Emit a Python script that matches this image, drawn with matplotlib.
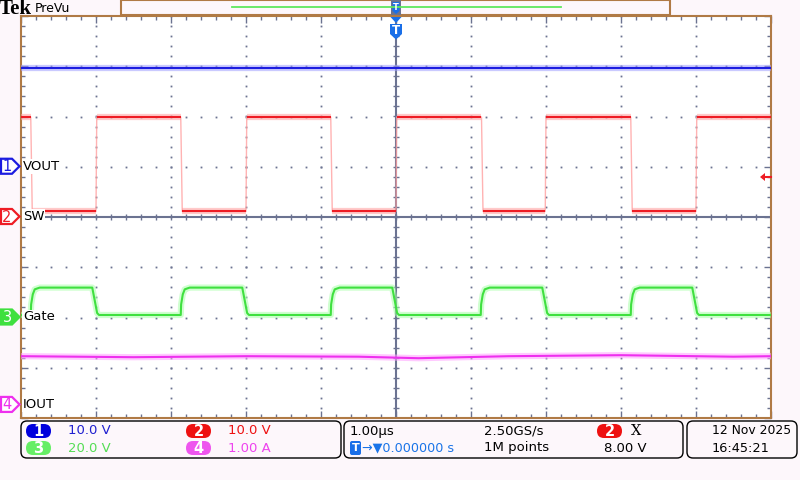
import numpy as np
import matplotlib.pyplot as plt
from matplotlib.patches import FancyBboxPatch, Polygon, Rectangle
from matplotlib.collections import LineCollection

# channel setup
labels = ["VOUT", "SW", "Gate", "IOUT"]
scales = [10.0, 10.0, 20.0, 1.0]      # units per division
offsets = [1.0, 0.0, -2.0, -3.74]     # ground markers, in divisions
readouts = ["10.0 V", "10.0 V", "20.0 V", "1.00 A"]

# waveforms, time in us (1 us/div)
vout_t = [-5.0, 5.0]
vout_v = [19.6, 19.6]

sw_rise = [-4.0, -2.0, 0.0, 1.99, 4.0]
sw_fall = [-4.87, -2.87, -0.87, 1.14, 3.13]
sw_high = 19.9
sw_low = 1.1

gate_rise = [-4.87, -2.87, -0.87, 1.13, 3.13]
gate_fall = [-4.05, -2.05, -0.05, 1.95, 3.95]
gate_high = 11.9
gate_low = 1.0
gate_rise_dt = [0.0, 0.005, 0.027, 0.053, 0.09, 0.12]
gate_rise_v = [1.0, 5.2, 9.2, 11.2, 11.6, 11.9]
gate_fall_dt = [0.0, 0.065, 0.09]
gate_fall_v = [11.9, 1.8, 1.0]

iout_t = [-5.0, -3.5, -2.0, -0.5, 0.3, 1.5, 3.0, 4.5, 5.0]
iout_v = [0.97, 0.95, 0.97, 0.96, 0.93, 0.97, 0.99, 0.96, 0.97]

col = ["#1c1ce0", "#ee1c24", "#3fe03f", "#ee30ee"]
fz = ["#a0a0ff", "#ffa0a0", "#aaffaa", "#ffa0ff"]
BG = "#fdf7fb"
GRID = "#6b7391"
BORDER = "#b07a45"


def sw_wave():
    t, v = [-5.0], [sw_high]
    ev = sorted([(x, "f") for x in sw_fall] + [(x, "r") for x in sw_rise])
    for x, k in ev:
        if k == "f":
            t += [x, x + 0.02]
            v += [sw_high, sw_low]
        else:
            t += [x, x + 0.01]
            v += [sw_low, sw_high]
    t.append(5.0)
    v.append(v[-1])
    return np.array(t), np.array(v)


def gate_wave():
    t, v = [-5.0], [gate_low]
    ev = sorted([(x, "r") for x in gate_rise] + [(x, "f") for x in gate_fall])
    for x, k in ev:
        dts, vs = (gate_rise_dt, gate_rise_v) if k == "r" else (gate_fall_dt, gate_fall_v)
        t += [x + d for d in dts]
        v += vs
    t.append(5.0)
    v.append(v[-1])
    return np.array(t), np.array(v)


fig = plt.figure(figsize=(8, 4.8), dpi=100, facecolor=BG)
ax = fig.add_axes([21 / 800, 1 - 418 / 480, 750 / 800, 402 / 480])
ax.set_facecolor("white")
ax.set_xlim(-5, 5)
ax.set_ylim(-4, 4)
for s in ax.spines.values():
    s.set_color(BORDER)
    s.set_linewidth(1.5)
ax.set_xticks(np.arange(-5, 5.01, 1))
ax.set_xticks(np.arange(-5, 5.01, 0.2), minor=True)
ax.set_yticks(np.arange(-4, 4.01, 1))
ax.set_yticks(np.arange(-4, 4.01, 0.2), minor=True)
ax.tick_params(which="both", direction="in", colors=GRID, width=1, length=3,
               top=True, right=True, labelbottom=False, labelleft=False)
ax.tick_params(which="major", length=5)

# graticule dots
for gx in [-4, -3, -2, -1, 1, 2, 3, 4]:
    yy = np.arange(-4, 4.01, 0.2)
    ax.plot(np.full_like(yy, gx), yy, ls="none", marker="s", ms=1.3, color=GRID, mew=0)
for gy in [-3, -2, -1, 1, 2, 3]:
    xx = np.arange(-5, 5.01, 0.2)
    ax.plot(xx, np.full_like(xx, gy), ls="none", marker="s", ms=1.3, color=GRID, mew=0)
ax.axhline(0, color=GRID, lw=1.5, zorder=1)
ax.axvline(0, color=GRID, lw=1.5, zorder=1)
xx = np.arange(-5, 5.01, 0.2)
ax.plot(xx, np.zeros_like(xx), ls="none", marker="|", ms=4.5, mew=1, color=GRID)
yy = np.arange(-4, 4.01, 0.2)
ax.plot(np.zeros_like(yy), yy, ls="none", marker="_", ms=4.5, mew=1, color=GRID)


def trace(t, v, i, edges_faint=False):
    y = offsets[i] + np.asarray(v) / scales[i]
    if edges_faint:
        ax.plot(t, y, color=fz[i], lw=1, alpha=0.8, zorder=3)
        segs = [[(t[k], y[k]), (t[k + 1], y[k + 1])] for k in range(len(t) - 1)
                if abs(y[k] - y[k + 1]) < 0.05]
        ax.add_collection(LineCollection(segs, colors=fz[i], lw=4.5, alpha=0.55, zorder=4))
        ax.add_collection(LineCollection(segs, colors=col[i], lw=1.5, zorder=5))
    else:
        ax.plot(t, y, color=fz[i], lw=4.5, alpha=0.55, zorder=4, solid_joinstyle="round")
        ax.plot(t, y, color=col[i], lw=1.5, zorder=5)


trace(vout_t, vout_v, 0)
st, sv = sw_wave()
trace(st, sv, 1, edges_faint=True)
gt, gv = gate_wave()
trace(gt, gv, 2)
trace(iout_t, iout_v, 3)

# overlay in pixel coordinates
ov = fig.add_axes([0, 0, 1, 1], zorder=5)
ov.set_xlim(0, 800)
ov.set_ylim(480, 0)
ov.axis("off")

ov.text(-1, 9, "Tek", family="Liberation Serif", weight="bold", fontsize=15, va="center")
ov.text(35, 8, "PreVu", fontsize=9, va="center")

# record bar
ov.add_patch(Rectangle((121, 0), 549, 15, fc=BG, ec=BORDER, lw=1.5))
ov.plot([232, 561], [7, 7], color="#5ee85e", lw=1.3)
ov.add_patch(Rectangle((391, 0), 10, 15, fc=GRID, ec="none"))
ov.add_patch(Polygon([(392.5, 2), (399.5, 2), (399.5, 11), (396, 14), (392.5, 11)],
                     fc="#1a6fe8", ec="none"))
ov.text(396, 7, "T", color="white", fontsize=6, weight="bold", ha="center", va="center")

# trigger position marker
ov.add_patch(Polygon([(390.5, 17), (401.5, 17), (396, 23)], fc="#1a6fe8", ec="none"))
ov.add_patch(Polygon([(390, 24), (402, 24), (402, 34), (396, 39.5), (390, 34)],
                     fc="#1a6fe8", ec="none"))
ov.text(396, 30, "T", color="white", fontsize=8.5, weight="bold", ha="center", va="center")

# trigger level arrow
ov.add_patch(Polygon([(760, 177), (765, 173), (765, 181)], fc="#ee1c24", ec="none"))
ov.plot([764, 771], [177, 177], color="#ee1c24", lw=1.5)

# channel ground markers
for i in range(4):
    yc = 216 - offsets[i] * 50.25 + 0.5
    filled = i == 2
    ov.add_patch(Polygon([(1, yc - 7.5), (12, yc - 7.5), (19.5, yc), (12, yc + 7.5), (1, yc + 7.5)],
                         fc=col[i] if filled else "white", ec=col[i], lw=1.6))
    ov.text(7, yc + 0.5, str(i + 1), color="white" if filled else col[i], fontsize=10.5,
            ha="center", va="center")
    ov.text(23, yc, labels[i], fontsize=9.5, va="center",
            bbox=dict(fc="white", ec="none", pad=0.6))

# status boxes
for x0, x1 in [(21, 341), (344, 683), (687, 797)]:
    ov.add_patch(FancyBboxPatch((x0, 421), x1 - x0, 37,
                                boxstyle="round,pad=0,rounding_size=6",
                                fc=BG, ec="black", lw=1))

badge_col = ["#0000dd", "#ee1111", "#66ee66", "#ee55ee"]
text_col = ["#2020d0", "#ee1111", "#55dd55", "#ee44ee"]
bx = [26, 186, 26, 186]
by = [431, 431, 448, 448]
for i in range(4):
    ov.add_patch(FancyBboxPatch((bx[i], by[i] - 7), 25, 14,
                                boxstyle="round,pad=0,rounding_size=7",
                                fc=badge_col[i], ec="none"))
    ov.text(bx[i] + 12.5, by[i] + 0.5, str(i + 1), color="white", fontsize=10.5,
            weight="bold", ha="center", va="center")
    ov.text(bx[i] + 42, by[i], readouts[i], color=text_col[i], fontsize=9.5, va="center")

ov.text(350, 431, "1.00µs", fontsize=9.5, va="center")
ov.add_patch(FancyBboxPatch((350, 441), 11, 14, boxstyle="round,pad=0,rounding_size=2",
                            fc="#1a6fe8", ec="none"))
ov.text(355.5, 448, "T", color="white", fontsize=8, weight="bold", ha="center", va="center")
ov.text(362, 448, "→▼0.000000 s", color="#1a74e8", fontsize=9.2, va="center")
ov.text(484, 431, "2.50GS/s", fontsize=9.5, va="center")
ov.text(484, 448, "1M points", fontsize=9.5, va="center")
ov.add_patch(FancyBboxPatch((597, 424), 25, 14, boxstyle="round,pad=0,rounding_size=7",
                            fc="#ee1111", ec="none"))
ov.text(609.5, 431.5, "2", color="white", fontsize=10.5, weight="bold", ha="center", va="center")
ov.text(631, 431, "X", family="DejaVu Serif", fontsize=10.5, va="center")
ov.text(604, 448, "8.00 V", fontsize=9.5, va="center")
ov.text(712, 431, "12 Nov 2025", fontsize=8.9, va="center")
ov.text(712, 448, "16:45:21", fontsize=9.3, va="center")

fig.savefig("out.png", dpi=100, facecolor=BG)
